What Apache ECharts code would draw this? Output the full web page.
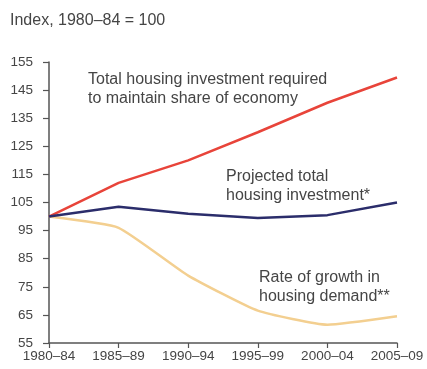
<!DOCTYPE html>
<html>
<head>
<meta charset="utf-8">
<script src="https://cdn.jsdelivr.net/npm/echarts@6/dist/echarts.min.js"></script>
<style>
  html, body { margin: 0; padding: 0; background: #fff; }
  #chart { width: 427px; height: 369px; }
</style>
</head>
<body>
<div id="chart"></div>
<script>
// Five-year periods on the horizontal axis
const periods = ['1980–84', '1985–89', '1990–94', '1995–99', '2000–04', '2005–09'];

// Index values, 1980–84 = 100
const requiredInvestment = [100, 112, 120, 130, 140.5, 149.5];
const projectedInvestment = [100, 103.5, 101, 99.5, 100.5, 105];
const housingDemandGrowth = [100, 96, 79, 66.5, 61.5, 64.5];

// Value axis range and step
const yMin = 55;
const yMax = 155;
const yStep = 10;

const textColor = '#454545';
const axisColor = '#555';
const fontFamily = '"Liberation Sans", Arial, Helvetica, sans-serif';

const chart = echarts.init(document.getElementById('chart'), null, { renderer: 'canvas' });

function note(x, y, text) {
  return {
    type: 'text',
    left: x,
    top: y,
    style: {
      text: text,
      font: '16px ' + fontFamily,
      fill: textColor,
      lineHeight: 19
    }
  };
}

chart.setOption({
  animation: false,
  backgroundColor: '#fff',
  grid: { left: 49, right: 30, top: 62, bottom: 26, containLabel: false },
  xAxis: {
    type: 'category',
    data: periods,
    boundaryGap: false,
    axisLine: { show: true, lineStyle: { color: axisColor, width: 1.5 } },
    axisTick: { show: true, alignWithLabel: true, length: 5, lineStyle: { color: axisColor, width: 1.2 } },
    axisLabel: { color: textColor, fontSize: 13.5, fontFamily: fontFamily, margin: 6, showMaxLabel: true, showMinLabel: true, interval: 0 },
    splitLine: { show: false }
  },
  yAxis: {
    type: 'value',
    min: yMin,
    max: yMax,
    interval: yStep,
    axisLine: { show: true, lineStyle: { color: axisColor, width: 1.5 } },
    axisTick: { show: true, length: 6, lineStyle: { color: axisColor, width: 1.2 } },
    axisLabel: { color: textColor, fontSize: 13.5, fontFamily: fontFamily, margin: 16 },
    splitLine: { show: false }
  },
  series: [
    {
      name: 'Total housing investment required to maintain share of economy',
      type: 'line',
      data: requiredInvestment,
      symbol: 'none',
      lineStyle: { color: '#e8443a', width: 2.5 },
      z: 3
    },
    {
      name: 'Projected total housing investment',
      type: 'line',
      data: projectedInvestment,
      symbol: 'none',
      lineStyle: { color: '#2b2d6b', width: 2.5 },
      z: 4
    },
    {
      name: 'Rate of growth in housing demand',
      type: 'line',
      data: housingDemandGrowth,
      symbol: 'none',
      smooth: 0.15,
      lineStyle: { color: '#f3cf90', width: 2.5 },
      z: 2
    }
  ],
  graphic: [
    {
      type: 'text',
      left: 10,
      top: 13,
      style: { text: 'Index, 1980–84 = 100', font: '16px ' + fontFamily, fill: textColor }
    },
    note(88, 70, 'Total housing investment required\nto maintain share of economy'),
    note(226, 167, 'Projected total\nhousing investment*'),
    note(259, 268, 'Rate of growth in\nhousing demand**')
  ]
});
</script>
</body>
</html>
